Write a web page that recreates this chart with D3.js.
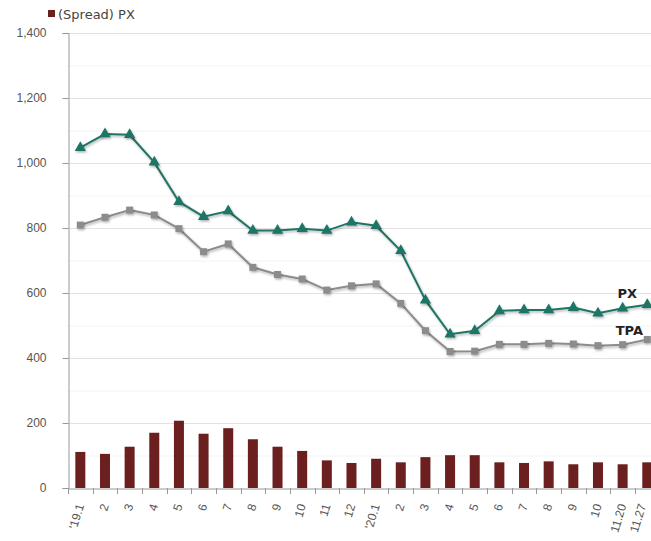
<!DOCTYPE html>
<html><head><meta charset="utf-8">
<script src="https://cdn.jsdelivr.net/npm/d3@7"></script>
<style>
html,body{margin:0;padding:0;background:#fff;}
svg{display:block;font-family:"DejaVu Sans","Noto Sans",sans-serif;}
</style></head>
<body><svg id="c" width="651" height="541"></svg>
<script>
const categories = ["'19.1","2","3","4","5","6","7","8","9","10","11","12","'20.1","2","3","4","5","6","7","8","9","10","11.20","11.27"];
const pxValues  = [1047,1089,1087,1002,881,835,852,792,792,798,792,818,807,730,578,473,484,545,548,548,555,538,553,564];
const tpaValues = [809,833,855,840,798,727,751,679,657,643,609,622,628,568,484,420,421,442,442,445,443,438,441,457];
const spreadValues = [111,105,127,170,207,167,184,150,127,114,85,77,90,79,95,101,101,79,77,82,73,79,73,79];
const yTicks = [0,200,400,600,800,1000,1200,1400];
const yMinor = [100,300,500,700,900,1100,1300];
const legendLabel = "(Spread) PX";
const seriesLabels = ["PX","TPA"];

(function(){
const svg = d3.select("#c");
const mLeft = 68, mRight = 659.6, mTop = 33, mBottom = 488;
const x = d3.scaleBand().domain(d3.range(categories.length)).range([mLeft, mRight]).paddingInner(0).paddingOuter(0);
const y = d3.scaleLinear().domain([0,1400]).range([mBottom, mTop]);
const cx = i => x(i) + x.bandwidth()/2;

const defs = svg.append("defs");
const f = defs.append("filter").attr("id","sh").attr("x","-50%").attr("y","-50%").attr("width","200%").attr("height","200%");
f.append("feDropShadow").attr("dx",1).attr("dy",1.5).attr("stdDeviation",1.2).attr("flood-color","#000").attr("flood-opacity",0.3);

// grid
svg.append("g").selectAll("line").data(yMinor).join("line")
  .attr("x1",mLeft).attr("x2",651).attr("y1",d=>y(d)+0.5).attr("y2",d=>y(d)+0.5)
  .attr("stroke","#f3f3f3").attr("stroke-width",1);
svg.append("g").selectAll("line").data(yTicks.filter(d=>d>0)).join("line")
  .attr("x1",mLeft).attr("x2",651).attr("y1",d=>y(d)+0.5).attr("y2",d=>y(d)+0.5)
  .attr("stroke","#e2e2e2").attr("stroke-width",1);

// y axis
const yAxis = d3.axisLeft(y).tickValues(yTicks).tickSize(6).tickPadding(16).tickFormat(d3.format(","));
const gy = svg.append("g").attr("transform",`translate(${mLeft+0.5},0)`).call(yAxis);
gy.select(".domain").attr("stroke","#999");
gy.selectAll(".tick line").attr("stroke","#999");
gy.selectAll(".tick text").attr("fill","#555").attr("font-size","12px");

// bars
const barW = 10;
svg.append("g").selectAll("rect").data(spreadValues).join("rect")
  .attr("x",(d,i)=>cx(i)-barW/2).attr("width",barW)
  .attr("y",d=>y(d)).attr("height",d=>mBottom-y(d))
  .attr("fill","#6b1f1f");

// x axis
const last = categories.length - 1;
const xAxis = d3.axisBottom(x).tickSize(0).tickFormat(i=>categories[i]);
const gx = svg.append("g").attr("transform",`translate(0,${mBottom+0.5})`).call(xAxis);
gx.select(".domain").attr("stroke","#999");
gx.selectAll(".tick text").attr("fill","#555").attr("font-size","12px")
  .attr("text-anchor","end").attr("dy",null)
  .attr("transform",i=> i===last ? "translate(-4,16) rotate(-73)" : "translate(1,16) rotate(-73)");
svg.append("g").selectAll("line").data(d3.range(categories.length+1)).join("line")
  .attr("x1",i=>Math.round(mLeft + i*x.bandwidth())+0.5).attr("x2",i=>Math.round(mLeft + i*x.bandwidth())+0.5)
  .attr("y1",mBottom).attr("y2",mBottom+6).attr("stroke","#999");

// lines
const line = vals => d3.line().x((d,i)=>cx(i)).y(d=>y(d))(vals);
svg.append("path").attr("d",line(tpaValues)).attr("fill","none").attr("stroke","#8c8c8c").attr("stroke-width",2).attr("filter","url(#sh)");
svg.append("path").attr("d",line(pxValues)).attr("fill","none").attr("stroke","#1d7565").attr("stroke-width",2).attr("filter","url(#sh)");

svg.append("g").selectAll("rect").data(tpaValues).join("rect")
  .attr("x",(d,i)=>cx(i)-3.5).attr("y",d=>y(d)-3.5).attr("width",7).attr("height",7)
  .attr("fill","#8c8c8c").attr("filter","url(#sh)");
const tri = d3.symbol().type(d3.symbolTriangle).size(55);
svg.append("g").selectAll("path").data(pxValues).join("path")
  .attr("d",tri).attr("transform",(d,i)=>`translate(${cx(i)},${y(d)})`)
  .attr("fill","#1d7565").attr("filter","url(#sh)");

// series labels
svg.append("text").attr("x",637).attr("y",y(pxValues[23])-7).attr("text-anchor","end")
  .attr("font-weight","bold").attr("font-size","13px").attr("fill","#222").text(seriesLabels[0]);
svg.append("text").attr("x",643).attr("y",y(tpaValues[23])-4).attr("text-anchor","end")
  .attr("font-weight","bold").attr("font-size","13px").attr("fill","#222").text(seriesLabels[1]);

// legend
svg.append("rect").attr("x",48).attr("y",10).attr("width",7).attr("height",7).attr("fill","#6b1f1f");
svg.append("text").attr("x",58).attr("y",19).attr("font-size","13px").attr("fill","#444").text(legendLabel);
})();
</script></body></html>
